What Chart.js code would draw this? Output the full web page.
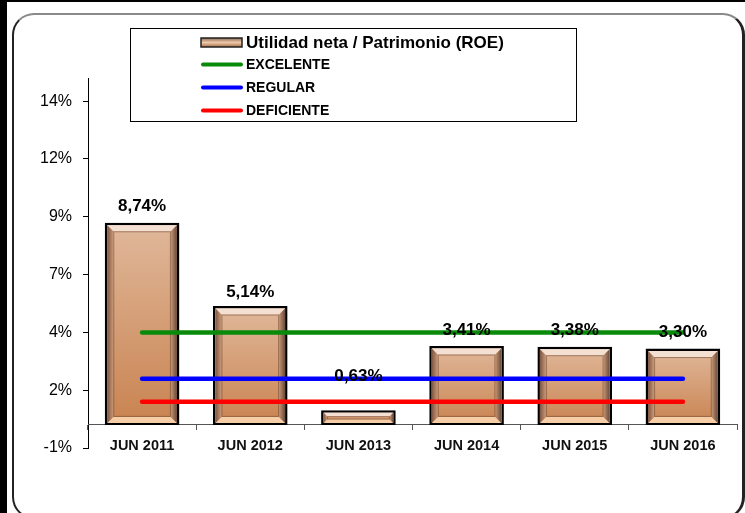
<!DOCTYPE html>
<html>
<head>
<meta charset="utf-8">
<script src="https://cdn.jsdelivr.net/npm/chart.js@4"></script>
<style>
  html, body { margin: 0; padding: 0; background: #fff; }
  #wrap  { position: relative; width: 745px; height: 513px; overflow: hidden; background: #fff; }
  #bandL { position: absolute; left: 0; top: 0; width: 7px; height: 513px; background: #000; }
  #bandT { position: absolute; left: 0; top: 0; width: 745px; height: 2px; background: #000; }
  #frame { position: absolute; left: 12px; top: 13px; width: 728px; height: 502px;
           border: 2px solid #222; border-top-color: #8a8a8a; border-right-width: 3px;
           border-radius: 22px; }
  canvas { position: absolute; left: 0; top: 0; }
</style>
</head>
<body>
<div id="wrap">
  <div id="bandL"></div>
  <div id="bandT"></div>
  <div id="frame"></div>
  <canvas id="chart" width="745" height="513"></canvas>
</div>
<script>
// Datos
const categories  = ['JUN 2011', 'JUN 2012', 'JUN 2013', 'JUN 2014', 'JUN 2015', 'JUN 2016'];
const roeValues   = [8.74, 5.14, 0.63, 3.41, 3.38, 3.30];
const excelente   = [4, 4, 4, 4, 4, 4];
const regular     = [2, 2, 2, 2, 2, 2];
const deficiente  = [1, 1, 1, 1, 1, 1];
const yTickValues = [-1, 1.5, 4, 6.5, 9, 11.5, 14];
const yTickLabels = ['-1%', '2%', '4%', '7%', '9%', '12%', '14%'];

const FONT = 'Liberation Sans, Arial, sans-serif';

// Degradado por barra (claro arriba, cobrizo abajo)
function barFill(ctx) {
  const chart = ctx.chart;
  if (!chart.chartArea || ctx.raw == null) return '#d59f78';
  const y = chart.scales.y;
  const top  = y.getPixelForValue(ctx.raw);
  const base = y.getPixelForValue(0);
  const g = chart.ctx.createLinearGradient(0, top, 0, base);
  g.addColorStop(0, '#e0b89b');
  g.addColorStop(1, '#c98350');
  return g;
}

// Bisel interior de cada barra
const barBevel = {
  id: 'barBevel',
  afterDatasetDraw(chart, args) {
    if (args.meta.type !== 'bar') return;
    const c = chart.ctx;
    args.meta.data.forEach(bar => {
      const p = bar.getProps(['x', 'y', 'base', 'width'], true);
      const l = p.x - p.width / 2 + 2.5, r = p.x + p.width / 2 - 2.5;
      const t = Math.min(p.y, p.base) + 2.5, b = Math.max(p.y, p.base) - 2;
      const s = Math.min(6, (b - t) / 3);
      const poly = (pts, fill) => {
        c.beginPath();
        c.moveTo(pts[0][0], pts[0][1]);
        pts.slice(1).forEach(q => c.lineTo(q[0], q[1]));
        c.closePath();
        c.fillStyle = fill;
        c.fill();
      };
      c.save();
      const gl = c.createLinearGradient(l, 0, l + s, 0);
      gl.addColorStop(0, '#7e5640'); gl.addColorStop(1, '#c9997a');
      const gr = c.createLinearGradient(r - s, 0, r, 0);
      gr.addColorStop(0, '#c29474'); gr.addColorStop(1, '#6a4a38');
      poly([[l, t], [r, t], [r - s, t + s], [l + s, t + s]], '#f3e0d3');
      poly([[l, b], [r, b], [r - s, b - s], [l + s, b - s]], '#f5cda6');
      poly([[l, t], [l + s, t + s], [l + s, b - s], [l, b]], gl);
      poly([[r, t], [r - s, t + s], [r - s, b - s], [r, b]], gr);
      c.strokeStyle = 'rgba(110,70,45,0.55)';
      c.lineWidth = 1;
      c.strokeRect(l + s + 0.5, t + s + 0.5, r - l - 2 * s - 1, b - t - 2 * s - 1);
      c.restore();
    });
  }
};

// Etiquetas de valor sobre las barras
const valueLabels = {
  id: 'valueLabels',
  afterDatasetsDraw(chart, args, opts) {
    const meta = chart.getDatasetMeta(0);
    const c = chart.ctx;
    c.save();
    c.font = 'bold 17px ' + FONT;
    c.fillStyle = '#000';
    c.textAlign = 'center';
    c.textBaseline = 'middle';
    meta.data.forEach((bar, i) => {
      const v = roeValues[i];
      const txt = v.toFixed(2).replace('.', ',') + '%';
      c.fillText(txt, bar.x, bar.y - (opts.lift[i] || 16));
    });
    c.restore();
  }
};

// Leyenda en recuadro
const boxLegend = {
  id: 'boxLegend',
  afterDraw(chart) {
    const c = chart.ctx;
    const ds = chart.data.datasets;
    c.save();
    c.fillStyle = '#fff';
    c.fillRect(130, 28, 446, 93);
    c.strokeStyle = '#000';
    c.lineWidth = 1;
    c.strokeRect(130.5, 28.5, 446, 93);

    const rows = [42, 64.5, 87.5, 110.5];
    // muestra de barra
    const g = c.createLinearGradient(0, 38, 0, 47);
    g.addColorStop(0, '#8a6a55'); g.addColorStop(0.5, '#f0c8a8'); g.addColorStop(1, '#a8704a');
    c.fillStyle = g;
    c.fillRect(201, 38, 41, 9);
    c.strokeStyle = '#222';
    c.lineWidth = 1.5;
    c.strokeRect(201, 38, 41, 9);
    c.fillStyle = '#000';
    c.textBaseline = 'middle';
    c.font = 'bold 17px ' + FONT;
    c.fillText(ds[0].label, 246, rows[0] + 1);

    c.font = 'bold 14px ' + FONT;
    c.lineCap = 'round';
    for (let i = 1; i < ds.length; i++) {
      c.strokeStyle = ds[i].borderColor;
      c.lineWidth = 4;
      c.beginPath();
      c.moveTo(203, rows[i]);
      c.lineTo(241, rows[i]);
      c.stroke();
      c.fillStyle = '#000';
      c.fillText(ds[i].label, 246, rows[i] + 1);
    }
    c.restore();
  }
};

const lineStyle = color => ({
  type: 'line',
  borderColor: color,
  backgroundColor: color,
  borderWidth: 4.5,
  borderCapStyle: 'round',
  pointRadius: 0,
  pointHoverRadius: 0,
  fill: false,
  order: 1
});

new Chart(document.getElementById('chart'), {
  type: 'bar',
  data: {
    labels: categories,
    datasets: [
      {
        type: 'bar',
        label: 'Utilidad neta / Patrimonio (ROE)',
        data: roeValues,
        backgroundColor: barFill,
        borderColor: '#000',
        borderWidth: 2.5,
        borderSkipped: false,
        barPercentage: 0.69,
        categoryPercentage: 1,
        order: 2
      },
      { ...lineStyle('#0a8a0a'), label: 'EXCELENTE',  data: excelente },
      { ...lineStyle('#0000ff'), label: 'REGULAR',    data: regular },
      { ...lineStyle('#ff0000'), label: 'DEFICIENTE', data: deficiente }
    ]
  },
  options: {
    responsive: false,
    animation: false,
    devicePixelRatio: 1,
    layout: { padding: { left: 0, top: 78, right: 8, bottom: 65 } },
    plugins: {
      legend: { display: false },
      tooltip: { enabled: false },
      valueLabels: { lift: [16, 14, 34, 16, 16, 16] }
    },
    scales: {
      y: {
        min: -1,
        max: 15,
        afterBuildTicks: s => { s.ticks = yTickValues.map(v => ({ value: v })); },
        afterFit: s => { s.width = 88; },
        border: { display: true, color: '#000', width: 1 },
        grid: { drawOnChartArea: false, drawTicks: true, tickLength: 5, tickColor: '#000' },
        ticks: {
          color: '#000',
          font: { family: FONT, size: 16 },
          padding: 11,
          callback: (v, i) => yTickLabels[i]
        }
      },
      x: {
        position: { y: 0 },
        offset: true,
        border: { display: true, color: '#555', width: 1 },
        grid: { offset: true, drawOnChartArea: false, drawTicks: true, tickLength: 5, tickColor: '#555' },
        ticks: {
          color: '#111',
          font: { family: FONT, size: 14.5, weight: 'bold' },
          padding: 7,
          maxRotation: 0,
          autoSkip: false
        }
      }
    }
  },
  plugins: [barBevel, valueLabels, boxLegend]
});
</script>
</body>
</html>
